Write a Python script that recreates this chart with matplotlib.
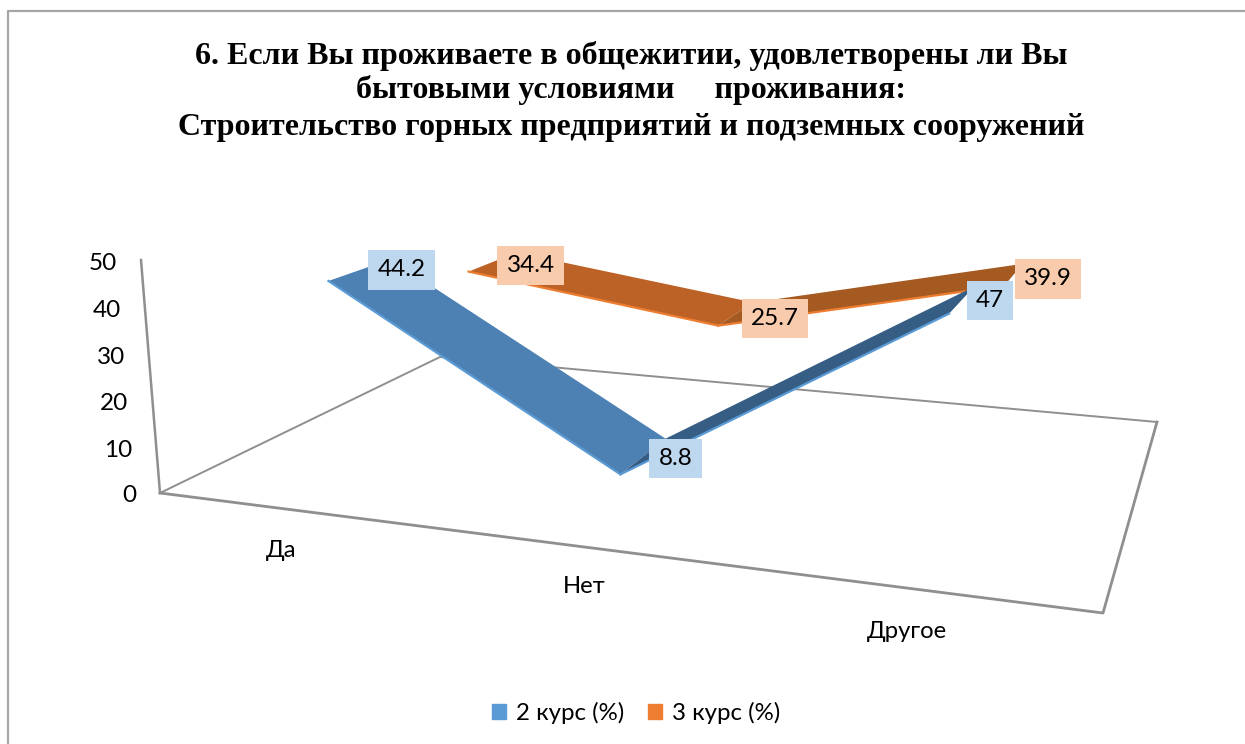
import matplotlib
matplotlib.use("Agg")
import matplotlib.pyplot as plt
from matplotlib.patches import Patch
import numpy as np

categories = ["Да", "Нет", "Другое"]
series_names = ["2 курс (%)", "3 курс (%)"]
course2 = [44.2, 8.8, 47]
course3 = [34.4, 25.7, 39.9]
value_ticks = [0, 10, 20, 30, 40, 50]

W, H = 1245, 744
plt.rcParams['font.family'] = ['Lato', 'Noto Sans', 'DejaVu Sans']

# floor corners of the 3d box in pixels: front-left, front-right, back-right, back-left
floor = [(160, 493), (1103, 613), (1157, 422), (440, 357)]
axis_top = (141, 260)
persp_z = -0.02
vmax = 50.0


def solve_floor():
    uv = [(0, 0), (1, 0), (1, 1), (0, 1)]
    A = []
    b = []
    for (u, v), (x, y) in zip(uv, floor):
        A.append([u, v, 1, 0, 0, 0, -u * x, -v * x])
        A.append([0, 0, 0, u, v, 1, -u * y, -v * y])
        b += [x, y]
    return np.linalg.solve(np.array(A, float), np.array(b, float))


m = solve_floor()
cam = np.array([
    [m[0], m[1], axis_top[0] * (1 + persp_z) - m[2], m[2]],
    [m[3], m[4], axis_top[1] * (1 + persp_z) - m[5], m[5]],
    [m[6], m[7], persp_z, 1.0],
])


# category position, depth, value -> pixel
def project(u, v, val):
    p = cam @ np.array([u, v, val / vmax, 1.0])
    return p[0] / p[2], p[1] / p[2]


fig = plt.figure(figsize=(W / 100, H / 100), dpi=100)
ax = fig.add_axes([0, 0, 1, 1])
ax.set_xlim(0, W)
ax.set_ylim(H, 0)
ax.axis("off")

# chart frame
ax.plot([8, 8, W + 5], [H + 5, 11, 11], color="#a6a6a6", lw=1.6)

# box lines, front edges are heavier in the original
grey = "#8f8f8f"
ax.plot([floor[2][0], floor[3][0], floor[0][0]], [floor[2][1], floor[3][1], floor[0][1]], color=grey, lw=1.4, zorder=1)
ax.plot([floor[0][0], floor[1][0], floor[2][0]], [floor[0][1], floor[1][1], floor[2][1]], color=grey, lw=2.0, zorder=1)
ax.plot([floor[0][0], axis_top[0]], [floor[0][1], axis_top[1]], color=grey, lw=1.8, zorder=1)

centres = [1 / 6, 1 / 2, 0.846]


def ribbon(vals, v0, v1, face_down, face_up, edge, z):
    for i in range(len(vals) - 1):
        a = project(centres[i], v0, vals[i])
        b = project(centres[i], v1, vals[i])
        c = project(centres[i + 1], v1, vals[i + 1])
        d = project(centres[i + 1], v0, vals[i + 1])
        col = face_down if vals[i + 1] < vals[i] else face_up
        ax.fill([a[0], b[0], c[0], d[0]], [a[1], b[1], c[1], d[1]], color=col, lw=0, zorder=z + i)
        ax.plot([a[0], d[0]], [a[1], d[1]], color=edge, lw=1.6, zorder=z + 3)


ribbon(course3, 0.66, 0.88, "#bd6226", "#a55a21", "#ed7d31", 3)
ribbon(course2, 0.15, 0.36, "#4d81b3", "#365d84", "#5b9bd5", 8)

# data labels, offset from front corner of ribbon
off2 = [(73, -11), (55, -16), (41, -13)]
off3 = [(62, -6), (57, -7), (44, -7)]
for vals, v0, off, col in [(course2, 0.15, off2, "#bdd7ee"), (course3, 0.66, off3, "#f8cbad")]:
    for i, val in enumerate(vals):
        x, y = project(centres[i], v0, val)
        ax.text(x + off[i][0], y + off[i][1], f"{val:g}", ha="center", va="center", fontsize=17.5, zorder=20,
                color="black", bbox=dict(boxstyle="square,pad=0.38", fc=col, ec="none"))

# value axis labels
for t in value_ticks:
    x, y = project(0, 0, t)
    ax.text(x - 24, y + 3, str(t), ha="right", va="center", fontsize=17.5)

# category labels
cat_off = [(30, 17), (30, 12), (6, 11)]
for i, name in enumerate(categories):
    x, y = project([1 / 6, 1 / 2, 5 / 6][i], -0.12, 0)
    ax.text(x + cat_off[i][0], y + cat_off[i][1], name, ha="center", va="center", fontsize=17.2)

title = ["6. Если Вы проживаете в общежитии, удовлетворены ли Вы",
         "бытовыми условиями     проживания:",
         "Строительство горных предприятий и подземных сооружений"]
for line, y in zip(title, [56, 90, 128]):
    ax.text(631, y, line, ha="center", va="center", fontsize=23, fontweight="bold",
            family="Liberation Serif", color="black")

handles = [Patch(color="#5b9bd5", label=series_names[0]), Patch(color="#ed7d31", label=series_names[1])]
ax.legend(handles=handles, loc="center", bbox_to_anchor=(636 / W, 1 - 713 / H), ncol=2, frameon=False,
          fontsize=17.3, handlelength=0.6, handleheight=0.6, handletextpad=0.4, columnspacing=1.0)

fig.savefig("out.png", dpi=100)
